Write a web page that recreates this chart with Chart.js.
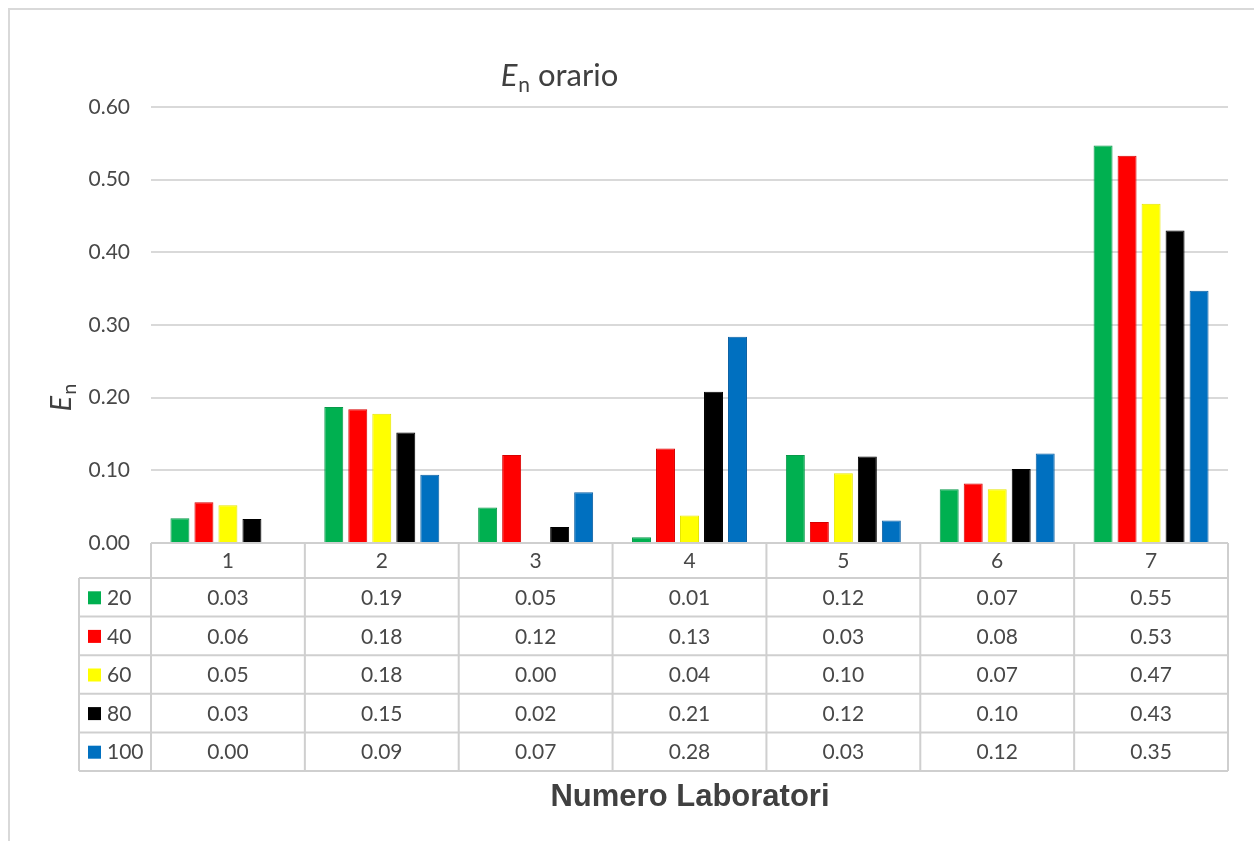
<!DOCTYPE html>
<html>
<head>
<meta charset="utf-8">
<script src="https://cdn.jsdelivr.net/npm/chart.js@4"></script>
<style>
html, body { margin: 0; padding: 0; background: #fff; }
canvas { display: block; }
</style>
</head>
<body>
<canvas id="myChart" width="1254" height="841"></canvas>
<script>
// data (bars), table shows them rounded to 2 decimals
var categories = ["1", "2", "3", "4", "5", "6", "7"];
var seriesNames = ["20", "40", "60", "80", "100"];
var values20  = [0.034, 0.187, 0.049, 0.008, 0.121, 0.074, 0.547];
var values40  = [0.056, 0.184, 0.121, 0.130, 0.029, 0.082, 0.533];
var values60  = [0.052, 0.178, 0.000, 0.038, 0.096, 0.074, 0.467];
var values80  = [0.033, 0.152, 0.022, 0.208, 0.119, 0.102, 0.430];
var values100 = [0.000, 0.094, 0.070, 0.284, 0.031, 0.123, 0.347];
var yMax = 0.6;
var yStep = 0.1;

var fills   = ["#00B050", "#FF0000", "#FFFF00", "#000000", "#0070C0"];
var borders = ["#08994a", "#d80000", "#e6e600", "#000000", "#0a5fa3"];
var allValues = [values20, values40, values60, values80, values100];

var textColor = "#484848";
var lineColor = "#cfcfcf";

var datasets = seriesNames.map(function (name, i) {
    return {
        label: name,
        data: allValues[i],
        backgroundColor: fills[i],
        borderColor: borders[i],
        borderWidth: 1,
        categoryPercentage: 0.78,
        barPercentage: 0.79
    };
});

// title, axis titles and the data table under the plot
var extras = {
    id: "extras",
    afterDraw: function (chart) {
        var ctx = chart.ctx;
        var area = chart.chartArea;
        var x = chart.scales.x;
        ctx.save();

        // outer frame (only left and top visible in the picture)
        ctx.strokeStyle = "#d9d9d9";
        ctx.lineWidth = 2;
        ctx.beginPath();
        ctx.moveTo(9, 841);
        ctx.lineTo(9, 9);
        ctx.lineTo(1254, 9);
        ctx.stroke();

        // chart title: E(n) orario
        ctx.fillStyle = "#404040";
        ctx.textBaseline = "alphabetic";
        ctx.textAlign = "left";
        var f1 = "italic 31px Lato", f2 = "21px Lato", f3 = "31px Lato";
        ctx.font = f1; var wE = ctx.measureText("E").width;
        ctx.font = f2; var wn = ctx.measureText("n").width;
        ctx.font = f3; var wr = ctx.measureText(" orario").width;
        var tx = 559 - (wE + wn + wr) / 2, ty = 86;
        ctx.font = f1; ctx.fillText("E", tx, ty);
        ctx.font = f2; ctx.fillText("n", tx + wE + 1, ty + 6);
        ctx.font = f3; ctx.fillText(" orario", tx + wE + wn + 1, ty);

        // y axis title, rotated
        ctx.save();
        ctx.translate(71, 398);
        ctx.rotate(-Math.PI / 2);
        ctx.font = "italic 29px Lato"; var yE = ctx.measureText("E").width;
        ctx.font = "20px Lato"; var yn = ctx.measureText("n").width;
        var sx = -(yE + yn) / 2;
        ctx.font = "italic 29px Lato"; ctx.fillText("E", sx, 0);
        ctx.font = "20px Lato"; ctx.fillText("n", sx + yE + 1, 5);
        ctx.restore();

        // data table
        var top = area.bottom;
        var headH = 35;
        var rowH = 38.6;
        var legL = 79;
        var bounds = [area.left];
        for (var i = 0; i < categories.length - 1; i++) {
            bounds.push((x.getPixelForValue(i) + x.getPixelForValue(i + 1)) / 2);
        }
        bounds.push(area.right);
        var rowsTop = top + headH;
        var bottom = rowsTop + rowH * seriesNames.length;

        ctx.strokeStyle = lineColor;
        ctx.lineWidth = 2;
        ctx.beginPath();
        ctx.moveTo(area.left, top); ctx.lineTo(area.right, top);
        for (var r = 0; r <= seriesNames.length; r++) {
            var yy = rowsTop + r * rowH;
            ctx.moveTo(legL, yy); ctx.lineTo(area.right, yy);
        }
        bounds.forEach(function (bx) {
            ctx.moveTo(bx, top); ctx.lineTo(bx, bottom);
        });
        ctx.moveTo(legL, rowsTop); ctx.lineTo(legL, bottom);
        ctx.stroke();

        ctx.fillStyle = textColor;
        ctx.font = "21px Lato";
        ctx.textAlign = "center";
        ctx.textBaseline = "middle";
        categories.forEach(function (c, i) {
            ctx.fillText(c, x.getPixelForValue(i), top + headH / 2 + 1);
        });
        seriesNames.forEach(function (name, r) {
            var cy = rowsTop + r * rowH + rowH / 2 + 1;
            allValues[r].forEach(function (v, i) {
                ctx.fillStyle = textColor;
                ctx.textAlign = "center";
                ctx.fillText(v.toFixed(2), x.getPixelForValue(i), cy);
            });
            ctx.fillStyle = fills[r];
            ctx.fillRect(88, cy - 7, 13, 13);
            ctx.fillStyle = textColor;
            ctx.textAlign = "left";
            ctx.fillText(name, 107, cy);
        });

        // x axis title
        ctx.fillStyle = "#404040";
        ctx.font = "bold 31px 'Liberation Sans'";
        ctx.textAlign = "center";
        ctx.textBaseline = "alphabetic";
        ctx.fillText("Numero Laboratori", 690, 806);

        ctx.restore();
    }
};

var ctx = document.getElementById("myChart");
var chartInstance = new Chart(ctx, {
    type: 'bar',
    data: { labels: categories, datasets: datasets },
    options: {
        responsive: false,
        animation: false,
        layout: { padding: { top: 107, right: 26, bottom: 298, left: 0 } },
        plugins: { legend: { display: false }, tooltip: { enabled: false } },
        scales: {
            x: { display: false },
            y: {
                min: 0,
                max: yMax,
                afterFit: function (scale) { scale.width = 151; },
                ticks: {
                    stepSize: yStep,
                    padding: 21,
                    color: textColor,
                    font: { family: "Lato", size: 21 },
                    callback: function (v) { return v.toFixed(2); }
                },
                grid: { color: "#d9d9d9", lineWidth: 2, drawTicks: false },
                border: { display: false }
            }
        }
    },
    plugins: [extras]
});
</script>
</body>
</html>
